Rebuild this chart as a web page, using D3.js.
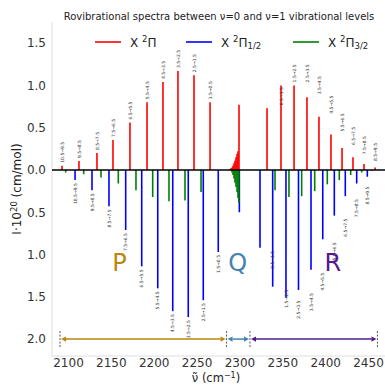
<!DOCTYPE html>
<html>
<head>
<meta charset="utf-8">
<script src="https://cdn.jsdelivr.net/npm/d3@7"></script>
<style>
  html, body { margin: 0; padding: 0; background: #fff; }
  svg { display: block; font-family: "DejaVu Sans", sans-serif; }
</style>
</head>
<body>
<svg id="chart" width="385" height="385"></svg>
<script>
// X 2Π total (upward), wavenumber in cm^-1 and intensity in 1e-20 cm/mol
const redNu = [2093.0, 2112.8, 2133.8, 2152.5, 2172.3, 2192.2, 2210.8, 2228.3, 2247.0, 2265.7,
               2299.5,
               2332.2, 2348.5, 2363.7, 2378.8, 2392.8, 2406.8, 2419.7, 2432.5, 2445.3, 2458.2];
const redI = [0.05, 0.105, 0.20, 0.355, 0.56, 0.80, 1.04, 1.17, 1.12, 0.80,
              0.77,
              0.73, 1.00, 1.00, 0.86, 0.63, 0.42, 0.26, 0.15, 0.07, 0.03];
const redLabels = ["10.5→9.5", "9.5→8.5", "8.5→7.5", "7.5→6.5", "6.5→5.5", "5.5→4.5", "4.5→3.5", "3.5→2.5", "2.5→1.5", "1.5→0.5",
                   "",
                   "0.5→1.5", "1.5→2.5", "2.5→3.5", "3.5→4.5", "4.5→5.5", "5.5→6.5", "6.5→7.5", "7.5→8.5", "8.5→9.5", "9.5→10.5"];

// X 2Π total, Q-branch head
const qRedNu = [2289.0, 2290.2, 2291.3, 2292.5, 2293.7, 2294.8, 2296.0, 2297.2, 2298.3];
const qRedI = [0.01, 0.02, 0.03, 0.05, 0.08, 0.11, 0.15, 0.19, 0.22];

// X 2Π1/2 component (drawn downward)
const blueNu = [2108.2, 2128.0, 2147.8, 2167.3, 2186.0, 2204.7, 2222.2, 2240.3, 2257.8, 2275.3,
                2299.9,
                2324.0, 2338.8, 2354.3, 2368.9, 2383.5, 2397.2, 2410.7, 2423.5, 2436.8, 2449.2];
const blueI = [0.12, 0.24, 0.43, 0.71, 1.14, 1.40, 1.67, 1.74, 1.54, 0.97,
               0.50,
               0.92, 1.38, 1.51, 1.42, 1.18, 0.82, 0.54, 0.31, 0.16, 0.08];
const blueLabels = ["10.5→9.5", "9.5→8.5", "8.5→7.5", "7.5→6.5", "6.5→5.5", "5.5→4.5", "4.5→3.5", "3.5→2.5", "2.5→1.5", "1.5→0.5",
                    "",
                    "0.5→1.5", "1.5→2.5", "2.5→3.5", "3.5→4.5", "4.5→5.5", "5.5→6.5", "6.5→7.5", "7.5→8.5", "8.5→9.5", "9.5→10.5"];

// X 2Π3/2 component (drawn downward)
const greenNu = [2097.3, 2118.3, 2138.5, 2158.7, 2179.3, 2198.8, 2217.8, 2236.5, 2255.2,
                 2291.3, 2292.5, 2293.7, 2294.8, 2296.0, 2297.2, 2298.3, 2299.3,
                 2341.5, 2357.8, 2372.6, 2387.8, 2402.5, 2416.5, 2429.8, 2442.6, 2454.7];
const greenI = [0.03, 0.05, 0.09, 0.16, 0.24, 0.32, 0.37, 0.36, 0.26,
                0.03, 0.06, 0.10, 0.15, 0.20, 0.26, 0.33, 0.39,
                0.24, 0.32, 0.31, 0.25, 0.17, 0.12, 0.06, 0.03, 0.01];

// Branch ranges
const branchNames = ["P", "Q", "R"];
const branchEdges = [2090.7, 2285.0, 2312.3, 2461.0];
const branchLetterNu = [2160, 2298, 2409];

const xTicks = [2100, 2150, 2200, 2250, 2300, 2350, 2400, 2450];
const yTicks = [1.5, 1.0, 0.5, 0.0, -0.5, -1.0, -1.5, -2.0];

const svg = d3.select("#chart");
const x = d3.scaleLinear().domain([2081.33, 2469.83]).range([52, 385]);
const y = d3.scaleLinear().domain([-2.2, 1.75]).range([356, 22]);

const colRed = "#ff0000", colBlue = "#0000ff", colGreen = "#008000";
const branchColors = ["#b8860b", "#4682b4", "#551a8b"];

// spines
svg.append("line").attr("x1", 52).attr("x2", 52).attr("y1", 22).attr("y2", 356)
  .attr("stroke", "#dedede").attr("stroke-width", 1);
svg.append("line").attr("x1", 52).attr("x2", 385).attr("y1", 356).attr("y2", 356)
  .attr("stroke", "#dedede").attr("stroke-width", 1);

// axes (labels only)
const yAxis = d3.axisLeft(y).tickValues(yTicks).tickSize(0).tickPadding(6)
  .tickFormat(d => Math.abs(d).toFixed(1));
const gy = svg.append("g").attr("transform", "translate(52,0)").call(yAxis);
gy.select(".domain").remove();
gy.selectAll("text").attr("font-size", 12).attr("fill", "#333").attr("font-family", "DejaVu Sans");

const xAxis = d3.axisBottom(x).tickValues(xTicks).tickSize(0).tickPadding(2)
  .tickFormat(d3.format("d"));
const gx = svg.append("g").attr("transform", "translate(0,356)").call(xAxis);
gx.select(".domain").remove();
gx.selectAll("text").attr("font-size", 12).attr("fill", "#333").attr("font-family", "DejaVu Sans");

// spectral lines
function sticks(nu, inten, color, sign) {
  svg.append("g").selectAll("line").data(nu).join("line")
    .attr("x1", d => x(d)).attr("x2", d => x(d))
    .attr("y1", y(0)).attr("y2", (d, i) => y(sign * inten[i]))
    .attr("stroke", color).attr("stroke-width", 1.6);
}
sticks(redNu, redI, colRed, 1);
sticks(qRedNu, qRedI, colRed, 1);
sticks(blueNu, blueI, colBlue, -1);
sticks(greenNu, greenI, colGreen, -1);

// transition labels
function stickLabels(nu, inten, labels, sign) {
  svg.append("g").selectAll("text").data(nu).join("text")
    .filter((d, i) => labels[i] !== "")
    .attr("transform", (d, i) => {
      const px = x(d) + 1.6;
      const py = y(sign * inten[i]) - sign * 3;
      return `translate(${px},${py}) rotate(-90)`;
    })
    .attr("text-anchor", sign > 0 ? "start" : "end")
    .attr("font-size", 4.5).attr("fill", "#333")
    .text((d, i) => labels[i]);
}
stickLabels(redNu, redI, redLabels, 1);
stickLabels(blueNu, blueI, blueLabels, -1);

// zero line
svg.append("line").attr("x1", 52).attr("x2", 385).attr("y1", y(0)).attr("y2", y(0))
  .attr("stroke", "#000").attr("stroke-width", 1.5);

// branch arrows
const ay = y(-2.0);
branchNames.forEach((name, i) => {
  const x0 = x(branchEdges[i]) + 1, x1 = x(branchEdges[i + 1]) - 1;
  const c = branchColors[i];
  const hl = 5, hw = 2.6;
  svg.append("line").attr("x1", x0 + hl).attr("x2", x1 - hl).attr("y1", ay).attr("y2", ay)
    .attr("stroke", c).attr("stroke-width", 1.5);
  svg.append("path")
    .attr("d", `M${x0},${ay}L${x0 + hl},${ay - hw}L${x0 + hl},${ay + hw}Z`)
    .attr("fill", c);
  svg.append("path")
    .attr("d", `M${x1},${ay}L${x1 - hl},${ay - hw}L${x1 - hl},${ay + hw}Z`)
    .attr("fill", c);
  svg.append("text").attr("x", x(branchLetterNu[i])).attr("y", y(-1.19))
    .attr("text-anchor", "middle").attr("font-size", 24).attr("fill", c)
    .text(name);
});
svg.append("g").selectAll("line").data(branchEdges).join("line")
  .attr("x1", d => x(d)).attr("x2", d => x(d))
  .attr("y1", ay - 8).attr("y2", ay + 8)
  .attr("stroke", "#555").attr("stroke-width", 1).attr("stroke-dasharray", "2,1.5");

// title
svg.append("text").attr("x", 219).attr("y", 20).attr("text-anchor", "middle")
  .attr("font-size", 10).attr("fill", "#222")
  .text("Rovibrational spectra between ν=0 and ν=1 vibrational levels");

// legend
const legend = [
  { c: colRed, x: 95, sub: "" },
  { c: colBlue, x: 186, sub: "1/2" },
  { c: colGreen, x: 293, sub: "3/2" }
];
legend.forEach(L => {
  svg.append("line").attr("x1", L.x).attr("x2", L.x + 26).attr("y1", 42).attr("y2", 42)
    .attr("stroke", L.c).attr("stroke-width", 1.6);
  const t = svg.append("text").attr("x", L.x + 35).attr("y", 46.5)
    .attr("font-size", 12).attr("fill", "#222");
  t.append("tspan").text("X ");
  t.append("tspan").attr("font-size", 8.5).attr("dy", -4.5).text("2");
  t.append("tspan").attr("dy", 4.5).text("Π");
  if (L.sub) t.append("tspan").attr("font-size", 8.5).attr("dy", 2.5).text(L.sub);
});

// axis titles
const xl = svg.append("text").attr("x", 216).attr("y", 382).attr("text-anchor", "middle")
  .attr("font-size", 11.5).attr("fill", "#222");
xl.append("tspan").text("ν̃ (cm");
xl.append("tspan").attr("font-size", 8).attr("dy", -4.5).text("−1");
xl.append("tspan").attr("dy", 4.5).text(")");

const yl = svg.append("text").attr("transform", "translate(21,189) rotate(-90)")
  .attr("text-anchor", "middle").attr("font-size", 12).attr("fill", "#222");
yl.append("tspan").text("I·10");
yl.append("tspan").attr("font-size", 8.5).attr("dy", -4.5).text("20");
yl.append("tspan").attr("dy", 4.5).text(" (cm/mol)");
</script>
</body>
</html>
